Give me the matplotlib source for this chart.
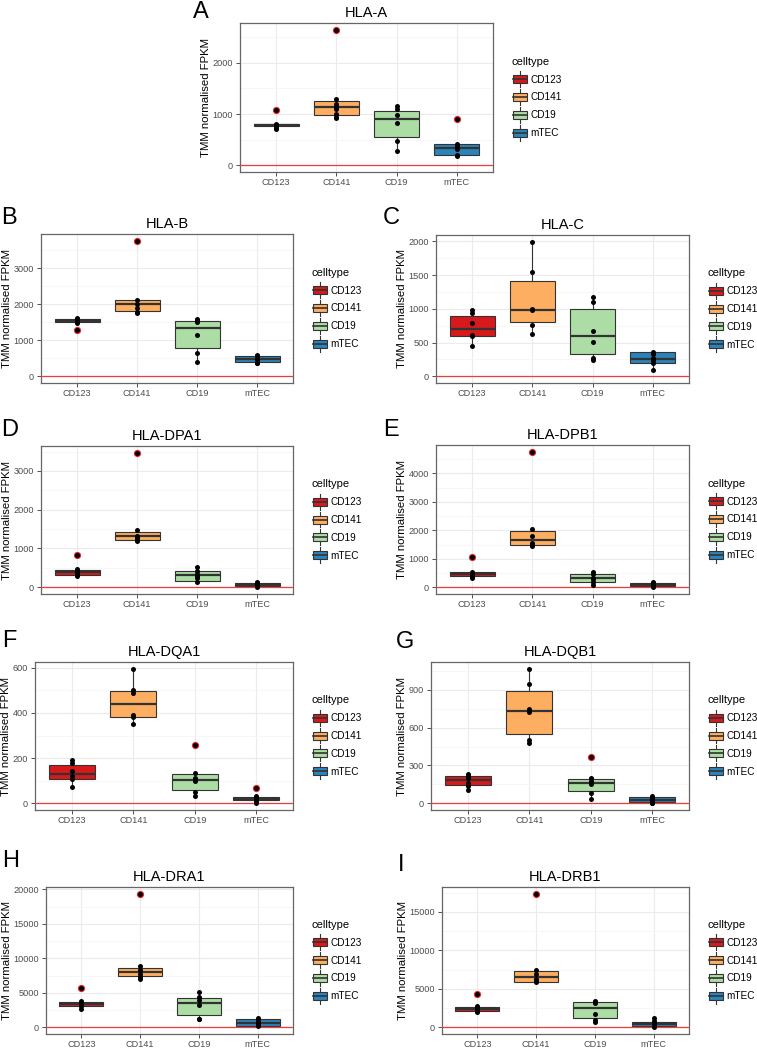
import matplotlib
matplotlib.use("Agg")
import matplotlib.pyplot as plt
from matplotlib.patches import Rectangle, Patch
from matplotlib.lines import Line2D
from matplotlib.legend_handler import HandlerBase
from matplotlib.ticker import MultipleLocator

plt.rcParams['font.family'] = ['Liberation Sans', 'DejaVu Sans']

celltypes = ['CD123', 'CD141', 'CD19', 'mTEC']
colors = ['#D7191C', '#FDAE61', '#ABDDA4', '#2B83BA']
genes = ['HLA-A', 'HLA-B', 'HLA-C', 'HLA-DPA1', 'HLA-DPB1',
         'HLA-DQA1', 'HLA-DQB1', 'HLA-DRA1', 'HLA-DRB1']
letters = ['A', 'B', 'C', 'D', 'E', 'F', 'G', 'H', 'I']

# box stats per celltype: [whisker low, q1, median, q3, whisker high]
hla_a_box = [[700, 770, 790, 810, 830], [916, 990, 1130, 1260, 1290],
             [273, 558, 909, 1065, 1150], [175, 190, 330, 410, 420]]
hla_a_pts = [[700, 730, 770, 790, 810, 1075], [916, 950, 1000, 1090, 1140, 1190, 1290, 2645],
             [273, 468, 825, 990, 1100, 1150], [175, 190, 325, 370, 420, 895]]

hla_b_box = [[1490, 1500, 1535, 1590, 1625], [1754, 1810, 1995, 2110, 2110],
             [397, 785, 1330, 1533, 1579], [360, 385, 470, 555, 590]]
hla_b_pts = [[1283, 1490, 1520, 1550, 1580, 1625], [1754, 1790, 1890, 2000, 2105, 3758],
             [397, 656, 1154, 1500, 1540, 1579], [360, 380, 450, 480, 550, 590]]

hla_c_box = [[456, 593, 706, 892, 980], [627, 809, 990, 1407, 1995],
             [245, 328, 593, 1000, 1176], [98, 196, 255, 353, 363]]
hla_c_pts = [[456, 593, 617, 789, 941, 980], [627, 755, 980, 1000, 1539, 1995],
             [245, 265, 510, 676, 1108, 1176], [98, 196, 240, 265, 330, 363]]

hla_dpa1_box = [[290, 320, 385, 450, 480], [1190, 1225, 1320, 1420, 1475],
                [128, 160, 315, 430, 510], [10, 30, 70, 110, 128]]
hla_dpa1_pts = [[290, 330, 370, 420, 470, 827], [1190, 1225, 1260, 1320, 1475, 3470],
                [128, 250, 300, 340, 430, 510], [10, 40, 60, 80, 105, 128]]

hla_dpb1_box = [[330, 410, 465, 525, 550], [1434, 1481, 1668, 1959, 2041],
                [93, 175, 315, 478, 548], [10, 35, 80, 135, 170]]
hla_dpb1_pts = [[330, 400, 450, 480, 550, 1073], [1434, 1480, 1550, 1784, 2041, 4758],
                [93, 175, 290, 340, 450, 548], [10, 40, 70, 90, 140, 170]]

hla_dqa1_box = [[70, 107, 129, 169, 191], [352, 381, 439, 499, 596],
                [34, 60, 104, 129, 136], [0, 13, 19, 26, 31]]
hla_dqa1_pts = [[70, 109, 120, 141, 180, 191], [352, 383, 390, 488, 500, 596],
                [34, 48, 97, 112, 136, 258], [0, 9, 16, 22, 31, 67]]

hla_dqb1_box = [[108, 147, 182, 213, 234], [476, 553, 732, 889, 1068],
                [37, 97, 160, 192, 203], [0, 8, 26, 50, 55]]
hla_dqb1_pts = [[108, 135, 160, 200, 215, 234], [476, 503, 726, 747, 945, 1068],
                [37, 82, 155, 174, 203, 371], [0, 5, 15, 37, 45, 55]]

hla_dra1_box = [[2714, 3048, 3333, 3667, 3810], [7000, 7381, 8048, 8667, 8905],
                [1190, 1714, 3571, 4238, 5095], [190, 238, 667, 1143, 1381]]
hla_dra1_pts = [[2714, 3050, 3250, 3450, 3810, 5667], [7000, 7350, 7800, 8300, 8905, 19381],
                [1190, 1250, 3190, 4000, 4381, 5095], [190, 333, 667, 850, 1048, 1381]]

hla_drb1_box = [[2009, 2137, 2393, 2650, 2735], [5855, 5940, 6581, 7308, 7479],
                [684, 1154, 2521, 3290, 3419], [100, 171, 385, 726, 1154]]
hla_drb1_pts = [[2009, 2150, 2300, 2450, 2735, 4316], [5855, 5950, 6282, 6880, 7479, 17350],
                [684, 940, 1709, 3162, 3300, 3419], [100, 171, 513, 812, 1154]]

tick_steps = [1000, 1000, 500, 1000, 1000, 200, 300, 5000, 5000]

all_box = [hla_a_box, hla_b_box, hla_c_box, hla_dpa1_box, hla_dpb1_box,
           hla_dqa1_box, hla_dqb1_box, hla_dra1_box, hla_drb1_box]
all_pts = [hla_a_pts, hla_b_pts, hla_c_pts, hla_dpa1_pts, hla_dpb1_pts,
           hla_dqa1_pts, hla_dqb1_pts, hla_dra1_pts, hla_drb1_pts]

W, H = 757, 1048
fig = plt.figure(figsize=(W / 100, H / 100), dpi=100)

# panel boxes in pixels: left, top, right, bottom
boxes_px = [(240, 23, 493, 172),
            (41, 234, 293, 383), (436, 235, 689, 383),
            (41, 446, 293, 594), (436, 445, 689, 594),
            (35, 662, 293, 810), (431, 662, 689, 810),
            (46, 887, 293, 1034), (442, 887, 689, 1034)]
# letter positions (x, baseline) in pixels
letter_px = [(193, 18), (1, 224), (383, 224), (1, 436), (383, 436),
             (2, 647), (396, 648), (2, 867), (398, 871)]

EDGE = '#333333'


class BoxHandler(HandlerBase):
    def create_artists(self, legend, orig_handle, xdescent, ydescent,
                       width, height, fontsize, trans):
        x0, y0 = -xdescent, -ydescent
        fc = orig_handle.get_facecolor()
        whisk = Line2D([x0 + width / 2] * 2, [y0 - 0.38 * height, y0 + 1.38 * height],
                       color=EDGE, lw=0.8, transform=trans)
        rect = Rectangle((x0 + 0.05 * width, y0 + 0.05 * height), 0.9 * width, 0.9 * height,
                         facecolor=fc, edgecolor=EDGE, lw=0.8, transform=trans)
        med = Line2D([x0 + 0.05 * width, x0 + 0.95 * width], [y0 + height / 2] * 2,
                     color=EDGE, lw=1.2, transform=trans)
        return [whisk, rect, med]


for k in range(9):
    l, t, r, b = boxes_px[k]
    ax = fig.add_axes([l / W, 1 - b / H, (r - l) / W, (b - t) / H])
    box, pts = all_box[k], all_pts[k]
    stats = [dict(whislo=s[0], q1=s[1], med=s[2], q3=s[3], whishi=s[4], fliers=[])
             for s in box]
    bp = ax.bxp(stats, positions=[1, 2, 3, 4], widths=0.75, patch_artist=True,
                showcaps=False, showfliers=False,
                boxprops=dict(edgecolor=EDGE, linewidth=0.8),
                medianprops=dict(color=EDGE, linewidth=1.6),
                whiskerprops=dict(color=EDGE, linewidth=0.8))
    for patch, c in zip(bp['boxes'], colors):
        patch.set_facecolor(c)
        patch.set_zorder(2)
    for i, p in enumerate(pts):
        outl = [v for v in p if v < box[i][0] or v > box[i][4]]
        if outl:
            ax.plot([i + 1] * len(outl), outl, 'o', color='#E8202A', ms=5.2,
                    mec='none', zorder=4)
        ax.plot([i + 1] * len(p), p, 'o', color='black', ms=3.6, mec='none', zorder=5)
    ax.axhline(0, color='#EE3B3B', lw=0.9, zorder=3.5)

    vals = [v for p in pts for v in p] + [0]
    lo, hi = min(vals), max(vals)
    rng = hi - lo
    ax.set_ylim(lo - 0.05 * rng, hi + 0.05 * rng)
    ax.set_xlim(0.4, 4.6)
    ax.set_xticks([1, 2, 3, 4])
    ax.set_xticklabels(celltypes)
    ax.yaxis.set_major_locator(MultipleLocator(tick_steps[k]))
    ax.yaxis.set_minor_locator(MultipleLocator(tick_steps[k] / 2))

    ax.set_axisbelow(True)
    ax.xaxis.grid(True, which='major', color='#EBEBEB', lw=0.8)
    ax.yaxis.grid(True, which='major', color='#EBEBEB', lw=0.8)
    ax.yaxis.grid(True, which='minor', color='#F4F4F4', lw=0.5)
    for sp in ax.spines.values():
        sp.set_color('#666666')
        sp.set_linewidth(0.9)
    ax.tick_params(which='major', length=3, width=0.6, color=EDGE,
                   labelsize=6.6, labelcolor='#4D4D4D', pad=2)
    ax.tick_params(axis='x', which='major', pad=1)
    ax.tick_params(which='minor', length=0)

    ax.set_title(genes[k], fontsize=10.5, pad=4)
    ax.set_ylabel('TMM normalised FPKM', fontsize=8.2, labelpad=1)

    handles = [Patch(facecolor=c, edgecolor=EDGE) for c in colors]
    ax.legend(handles, celltypes, title='celltype', loc='center left',
              bbox_to_anchor=(1 + 19 / (r - l), 0.5), frameon=False,
              fontsize=7.2, title_fontsize=8, handler_map={Patch: BoxHandler()},
              handlelength=1.55, handleheight=1.0, labelspacing=0.78,
              handletextpad=0.3, borderpad=0, borderaxespad=0, alignment='left')

    lx, ly = letter_px[k]
    fig.text(lx / W, 1 - ly / H, letters[k], fontsize=17, va='baseline', ha='left')

fig.savefig('out.png', dpi=100)
